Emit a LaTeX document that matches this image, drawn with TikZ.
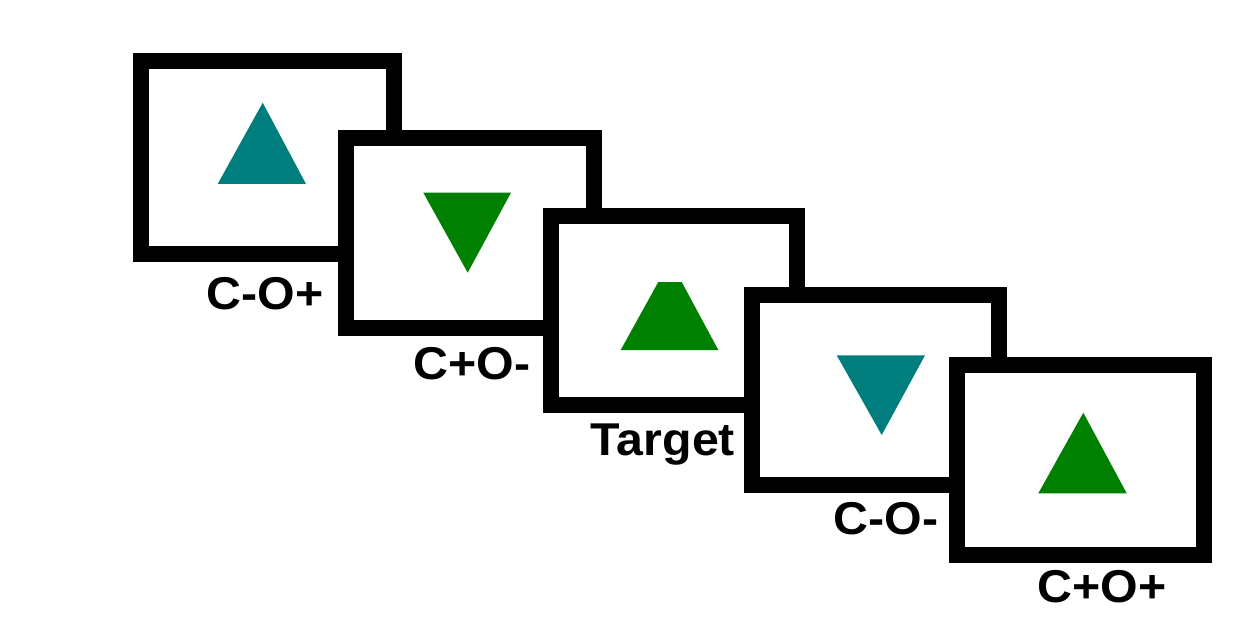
\documentclass[tikz,border=0pt]{standalone}
\usepackage{fontspec}
\setmainfont{Liberation Sans}
\definecolor{tealc}{RGB}{0,125,125}
\definecolor{greenc}{RGB}{0,128,0}
\begin{document}
\begin{tikzpicture}[x=1pt,y=-1pt,
  frame/.style={draw=black, fill=white, line width=16pt, rectangle, inner sep=0pt, outer sep=0pt},
  lab/.style={anchor=base, inner sep=0pt, xscale=1.05, font=\fontsize{46}{50}\selectfont\bfseries}]
\useasboundingbox (0,0) rectangle (1249,636);
% frame 1
\node[frame, minimum width=253pt, minimum height=193pt] (f1) at (267.5,157.5) {};
\fill[tealc] (262.7,102.7) -- (306,184) -- (217.7,184) -- cycle;
\node[lab] (l1) at (265,309) {C-O+};
% frame 2
\node[frame, minimum width=248pt, minimum height=190pt] (f2) at (470,233) {};
\fill[greenc] (423.3,192.7) -- (511,192.7) -- (467.7,272.7) -- cycle;
\node[lab] (l2) at (472,379) {C+O-};
% frame 3
\node[frame, minimum width=246pt, minimum height=189pt] (f3) at (674,310.5) {};
\fill[greenc] (658.3,282) -- (681.7,282) -- (718.3,350) -- (620.7,350) -- cycle;
\node[lab] (l3) at (663,455) {Target};
% frame 4
\node[frame, minimum width=247pt, minimum height=190pt] (f4) at (875.5,390) {};
\fill[tealc] (836.7,355.3) -- (925,355.3) -- (881.7,435) -- cycle;
\node[lab] (l4) at (886,534) {C-O-};
% frame 5
\node[frame, minimum width=247pt, minimum height=190pt] (f5) at (1080.5,460) {};
\fill[greenc] (1083.3,412.7) -- (1126.7,493.3) -- (1038.3,493.3) -- cycle;
\node[lab] (l5) at (1102,602) {C+O+};
\end{tikzpicture}
\end{document}
